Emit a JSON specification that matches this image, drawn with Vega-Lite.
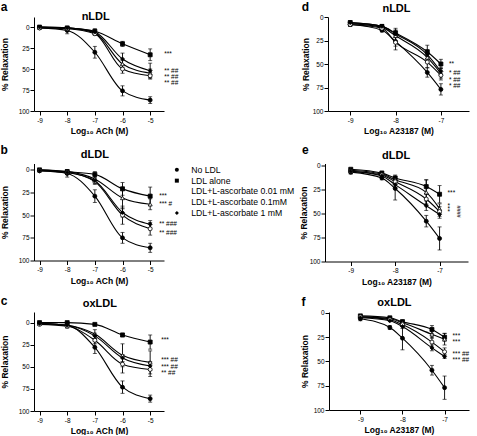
{
"$schema": "https://vega.github.io/schema/vega-lite/v6.json",
"padding": 0,
"datasets": {
"pts": [
{"panel":"a","series":"No LDL","x":-9,"y":1,"sem":1},{"panel":"a","series":"No LDL","x":-8,"y":4,"sem":4},{"panel":"a","series":"No LDL","x":-7,"y":30,"sem":7},{"panel":"a","series":"No LDL","x":-6,"y":76,"sem":6},{"panel":"a","series":"No LDL","x":-5,"y":87,"sem":4},
{"panel":"a","series":"LDL alone","x":-9,"y":0,"sem":1},{"panel":"a","series":"LDL alone","x":-8,"y":1,"sem":1},{"panel":"a","series":"LDL alone","x":-7,"y":5,"sem":3},{"panel":"a","series":"LDL alone","x":-6,"y":20,"sem":3},{"panel":"a","series":"LDL alone","x":-5,"y":33,"sem":7},
{"panel":"a","series":"LDL+L-ascorbate 0.01 mM","x":-9,"y":0,"sem":1},{"panel":"a","series":"LDL+L-ascorbate 0.01 mM","x":-8,"y":1,"sem":1},{"panel":"a","series":"LDL+L-ascorbate 0.01 mM","x":-7,"y":7,"sem":2},{"panel":"a","series":"LDL+L-ascorbate 0.01 mM","x":-6,"y":44,"sem":4},{"panel":"a","series":"LDL+L-ascorbate 0.01 mM","x":-5,"y":55,"sem":5},
{"panel":"a","series":"LDL+L-ascorbate 0.1mM","x":-9,"y":1,"sem":1},{"panel":"a","series":"LDL+L-ascorbate 0.1mM","x":-8,"y":2,"sem":2},{"panel":"a","series":"LDL+L-ascorbate 0.1mM","x":-7,"y":8,"sem":2},{"panel":"a","series":"LDL+L-ascorbate 0.1mM","x":-6,"y":50,"sem":5},{"panel":"a","series":"LDL+L-ascorbate 0.1mM","x":-5,"y":58,"sem":4},
{"panel":"a","series":"LDL+L-ascorbate 1 mM","x":-9,"y":0,"sem":1},{"panel":"a","series":"LDL+L-ascorbate 1 mM","x":-8,"y":1,"sem":1},{"panel":"a","series":"LDL+L-ascorbate 1 mM","x":-7,"y":6,"sem":3},{"panel":"a","series":"LDL+L-ascorbate 1 mM","x":-6,"y":38,"sem":7},{"panel":"a","series":"LDL+L-ascorbate 1 mM","x":-5,"y":52,"sem":9},
{"panel":"b","series":"No LDL","x":-9,"y":1,"sem":1},{"panel":"b","series":"No LDL","x":-8,"y":4,"sem":4},{"panel":"b","series":"No LDL","x":-7,"y":29,"sem":7},{"panel":"b","series":"No LDL","x":-6,"y":75,"sem":6},{"panel":"b","series":"No LDL","x":-5,"y":86,"sem":5},
{"panel":"b","series":"LDL alone","x":-9,"y":0,"sem":1},{"panel":"b","series":"LDL alone","x":-8,"y":2,"sem":2},{"panel":"b","series":"LDL alone","x":-7,"y":5,"sem":3},{"panel":"b","series":"LDL alone","x":-6,"y":21,"sem":7},{"panel":"b","series":"LDL alone","x":-5,"y":29,"sem":10},
{"panel":"b","series":"LDL+L-ascorbate 0.01 mM","x":-9,"y":0,"sem":1},{"panel":"b","series":"LDL+L-ascorbate 0.01 mM","x":-8,"y":2,"sem":2},{"panel":"b","series":"LDL+L-ascorbate 0.01 mM","x":-7,"y":10,"sem":3},{"panel":"b","series":"LDL+L-ascorbate 0.01 mM","x":-6,"y":31,"sem":12},{"panel":"b","series":"LDL+L-ascorbate 0.01 mM","x":-5,"y":38,"sem":6},
{"panel":"b","series":"LDL+L-ascorbate 0.1mM","x":-9,"y":1,"sem":1},{"panel":"b","series":"LDL+L-ascorbate 0.1mM","x":-8,"y":3,"sem":2},{"panel":"b","series":"LDL+L-ascorbate 0.1mM","x":-7,"y":13,"sem":3},{"panel":"b","series":"LDL+L-ascorbate 0.1mM","x":-6,"y":50,"sem":10},{"panel":"b","series":"LDL+L-ascorbate 0.1mM","x":-5,"y":65,"sem":7},
{"panel":"b","series":"LDL+L-ascorbate 1 mM","x":-9,"y":1,"sem":1},{"panel":"b","series":"LDL+L-ascorbate 1 mM","x":-8,"y":3,"sem":2},{"panel":"b","series":"LDL+L-ascorbate 1 mM","x":-7,"y":12,"sem":3},{"panel":"b","series":"LDL+L-ascorbate 1 mM","x":-6,"y":47,"sem":5},{"panel":"b","series":"LDL+L-ascorbate 1 mM","x":-5,"y":60,"sem":4},
{"panel":"c","series":"No LDL","x":-9,"y":1,"sem":1},{"panel":"c","series":"No LDL","x":-8,"y":3,"sem":3},{"panel":"c","series":"No LDL","x":-7,"y":28,"sem":7},{"panel":"c","series":"No LDL","x":-6,"y":73,"sem":7},{"panel":"c","series":"No LDL","x":-5,"y":86,"sem":4},
{"panel":"c","series":"LDL alone","x":-9,"y":0,"sem":1},{"panel":"c","series":"LDL alone","x":-8,"y":0,"sem":1},{"panel":"c","series":"LDL alone","x":-7,"y":2,"sem":1},{"panel":"c","series":"LDL alone","x":-6,"y":14,"sem":2},{"panel":"c","series":"LDL alone","x":-5,"y":22,"sem":8},
{"panel":"c","series":"LDL+L-ascorbate 0.01 mM","x":-9,"y":1,"sem":1},{"panel":"c","series":"LDL+L-ascorbate 0.01 mM","x":-8,"y":3,"sem":2},{"panel":"c","series":"LDL+L-ascorbate 0.01 mM","x":-7,"y":13,"sem":5},{"panel":"c","series":"LDL+L-ascorbate 0.01 mM","x":-6,"y":37,"sem":13},{"panel":"c","series":"LDL+L-ascorbate 0.01 mM","x":-5,"y":45,"sem":13},
{"panel":"c","series":"LDL+L-ascorbate 0.1mM","x":-9,"y":2,"sem":1},{"panel":"c","series":"LDL+L-ascorbate 0.1mM","x":-8,"y":4,"sem":2},{"panel":"c","series":"LDL+L-ascorbate 0.1mM","x":-7,"y":20,"sem":4},{"panel":"c","series":"LDL+L-ascorbate 0.1mM","x":-6,"y":47,"sem":10},{"panel":"c","series":"LDL+L-ascorbate 0.1mM","x":-5,"y":53,"sem":8},
{"panel":"c","series":"LDL+L-ascorbate 1 mM","x":-9,"y":1,"sem":1},{"panel":"c","series":"LDL+L-ascorbate 1 mM","x":-8,"y":3,"sem":2},{"panel":"c","series":"LDL+L-ascorbate 1 mM","x":-7,"y":15,"sem":3},{"panel":"c","series":"LDL+L-ascorbate 1 mM","x":-6,"y":40,"sem":4},{"panel":"c","series":"LDL+L-ascorbate 1 mM","x":-5,"y":49,"sem":5},
{"panel":"d","series":"No LDL","x":-9,"y":8,"sem":2},{"panel":"d","series":"No LDL","x":-8.3,"y":14,"sem":2},{"panel":"d","series":"No LDL","x":-8,"y":26,"sem":5},{"panel":"d","series":"No LDL","x":-7.3,"y":59,"sem":5},{"panel":"d","series":"No LDL","x":-7,"y":77,"sem":6},
{"panel":"d","series":"LDL alone","x":-9,"y":6,"sem":2},{"panel":"d","series":"LDL alone","x":-8.3,"y":10,"sem":2},{"panel":"d","series":"LDL alone","x":-8,"y":17,"sem":3},{"panel":"d","series":"LDL alone","x":-7.3,"y":37,"sem":7},{"panel":"d","series":"LDL alone","x":-7,"y":50,"sem":5},
{"panel":"d","series":"LDL+L-ascorbate 0.01 mM","x":-9,"y":7,"sem":2},{"panel":"d","series":"LDL+L-ascorbate 0.01 mM","x":-8.3,"y":11,"sem":3},{"panel":"d","series":"LDL+L-ascorbate 0.01 mM","x":-8,"y":20,"sem":8},{"panel":"d","series":"LDL+L-ascorbate 0.01 mM","x":-7.3,"y":43,"sem":5},{"panel":"d","series":"LDL+L-ascorbate 0.01 mM","x":-7,"y":60,"sem":5},
{"panel":"d","series":"LDL+L-ascorbate 0.1mM","x":-9,"y":8,"sem":2},{"panel":"d","series":"LDL+L-ascorbate 0.1mM","x":-8.3,"y":12,"sem":3},{"panel":"d","series":"LDL+L-ascorbate 0.1mM","x":-8,"y":27,"sem":8},{"panel":"d","series":"LDL+L-ascorbate 0.1mM","x":-7.3,"y":48,"sem":6},{"panel":"d","series":"LDL+L-ascorbate 0.1mM","x":-7,"y":62,"sem":5},
{"panel":"d","series":"LDL+L-ascorbate 1 mM","x":-9,"y":6,"sem":2},{"panel":"d","series":"LDL+L-ascorbate 1 mM","x":-8.3,"y":10,"sem":2},{"panel":"d","series":"LDL+L-ascorbate 1 mM","x":-8,"y":18,"sem":4},{"panel":"d","series":"LDL+L-ascorbate 1 mM","x":-7.3,"y":40,"sem":5},{"panel":"d","series":"LDL+L-ascorbate 1 mM","x":-7,"y":58,"sem":4},
{"panel":"e","series":"No LDL","x":-9,"y":7,"sem":2},{"panel":"e","series":"No LDL","x":-8.3,"y":13,"sem":2},{"panel":"e","series":"No LDL","x":-8,"y":24,"sem":12},{"panel":"e","series":"No LDL","x":-7.3,"y":58,"sem":6},{"panel":"e","series":"No LDL","x":-7,"y":76,"sem":12},
{"panel":"e","series":"LDL alone","x":-9,"y":4,"sem":1},{"panel":"e","series":"LDL alone","x":-8.3,"y":8,"sem":2},{"panel":"e","series":"LDL alone","x":-8,"y":13,"sem":3},{"panel":"e","series":"LDL alone","x":-7.3,"y":22,"sem":7},{"panel":"e","series":"LDL alone","x":-7,"y":30,"sem":9},
{"panel":"e","series":"LDL+L-ascorbate 0.01 mM","x":-9,"y":5,"sem":1},{"panel":"e","series":"LDL+L-ascorbate 0.01 mM","x":-8.3,"y":9,"sem":2},{"panel":"e","series":"LDL+L-ascorbate 0.01 mM","x":-8,"y":15,"sem":3},{"panel":"e","series":"LDL+L-ascorbate 0.01 mM","x":-7.3,"y":28,"sem":13},{"panel":"e","series":"LDL+L-ascorbate 0.01 mM","x":-7,"y":45,"sem":5},
{"panel":"e","series":"LDL+L-ascorbate 0.1mM","x":-9,"y":6,"sem":2},{"panel":"e","series":"LDL+L-ascorbate 0.1mM","x":-8.3,"y":10,"sem":2},{"panel":"e","series":"LDL+L-ascorbate 0.1mM","x":-8,"y":17,"sem":3},{"panel":"e","series":"LDL+L-ascorbate 0.1mM","x":-7.3,"y":35,"sem":5},{"panel":"e","series":"LDL+L-ascorbate 0.1mM","x":-7,"y":48,"sem":5},
{"panel":"e","series":"LDL+L-ascorbate 1 mM","x":-9,"y":6,"sem":2},{"panel":"e","series":"LDL+L-ascorbate 1 mM","x":-8.3,"y":11,"sem":2},{"panel":"e","series":"LDL+L-ascorbate 1 mM","x":-8,"y":20,"sem":3},{"panel":"e","series":"LDL+L-ascorbate 1 mM","x":-7.3,"y":42,"sem":5},{"panel":"e","series":"LDL+L-ascorbate 1 mM","x":-7,"y":51,"sem":4},
{"panel":"f","series":"No LDL","x":-9,"y":6,"sem":2},{"panel":"f","series":"No LDL","x":-8.3,"y":15,"sem":2},{"panel":"f","series":"No LDL","x":-8,"y":26,"sem":12},{"panel":"f","series":"No LDL","x":-7.3,"y":59,"sem":5},{"panel":"f","series":"No LDL","x":-7,"y":77,"sem":12},
{"panel":"f","series":"LDL alone","x":-9,"y":3,"sem":1},{"panel":"f","series":"LDL alone","x":-8.3,"y":5,"sem":1},{"panel":"f","series":"LDL alone","x":-8,"y":9,"sem":2},{"panel":"f","series":"LDL alone","x":-7.3,"y":17,"sem":4},{"panel":"f","series":"LDL alone","x":-7,"y":25,"sem":4},
{"panel":"f","series":"LDL+L-ascorbate 0.01 mM","x":-9,"y":4,"sem":1},{"panel":"f","series":"LDL+L-ascorbate 0.01 mM","x":-8.3,"y":6,"sem":1},{"panel":"f","series":"LDL+L-ascorbate 0.01 mM","x":-8,"y":10,"sem":2},{"panel":"f","series":"LDL+L-ascorbate 0.01 mM","x":-7.3,"y":22,"sem":4},{"panel":"f","series":"LDL+L-ascorbate 0.01 mM","x":-7,"y":27,"sem":6},
{"panel":"f","series":"LDL+L-ascorbate 0.1mM","x":-9,"y":4,"sem":1},{"panel":"f","series":"LDL+L-ascorbate 0.1mM","x":-8.3,"y":7,"sem":1},{"panel":"f","series":"LDL+L-ascorbate 0.1mM","x":-8,"y":12,"sem":2},{"panel":"f","series":"LDL+L-ascorbate 0.1mM","x":-7.3,"y":30,"sem":5},{"panel":"f","series":"LDL+L-ascorbate 0.1mM","x":-7,"y":40,"sem":4},
{"panel":"f","series":"LDL+L-ascorbate 1 mM","x":-9,"y":5,"sem":1},{"panel":"f","series":"LDL+L-ascorbate 1 mM","x":-8.3,"y":8,"sem":1},{"panel":"f","series":"LDL+L-ascorbate 1 mM","x":-8,"y":14,"sem":2},{"panel":"f","series":"LDL+L-ascorbate 1 mM","x":-7.3,"y":36,"sem":3},{"panel":"f","series":"LDL+L-ascorbate 1 mM","x":-7,"y":45,"sem":2}
],
"ann": [
{"panel":"a","x":-5,"y":32,"label":"***"},{"panel":"a","x":-5,"y":52,"label":"** ##"},{"panel":"a","x":-5,"y":59,"label":"** ##"},{"panel":"a","x":-5,"y":67,"label":"** ##"},
{"panel":"b","x":-5,"y":29,"label":"***"},{"panel":"b","x":-5,"y":38,"label":"*** #"},{"panel":"b","x":-5,"y":60,"label":"** ###"},{"panel":"b","x":-5,"y":70,"label":"** ###"},
{"panel":"c","x":-5,"y":20,"label":"***"},{"panel":"c","x":-5,"y":42,"label":"*** ##"},{"panel":"c","x":-5,"y":50,"label":"*** ##"},{"panel":"c","x":-5,"y":57,"label":"** ##"},
{"panel":"d","x":-7,"y":50,"label":"**"},{"panel":"d","x":-7,"y":60,"label":"* ##"},{"panel":"d","x":-7,"y":67,"label":"* ##"},{"panel":"d","x":-7,"y":73,"label":"* ##"},
{"panel":"e","x":-7,"y":29,"label":"***"},{"panel":"e","x":-7,"y":42,"label":"*"},{"panel":"e","x":-7,"y":45,"label":"*"},{"panel":"e","x":-7,"y":48,"label":"*"},
{"panel":"f","x":-7,"y":24,"label":"***"},{"panel":"f","x":-7,"y":30,"label":"***"},{"panel":"f","x":-7,"y":42,"label":"*** ##"},{"panel":"f","x":-7,"y":48,"label":"*** ##"}
],
"annv": [{"panel":"e","x":-7,"y":48,"label":"####"}]
},
"vconcat": [
{"hconcat": [
{"width":130,"height":94,
"layer":[
{"data":{"name":"pts"},"transform":[{"filter":"datum.panel==='a'"}],"mark":{"type":"line","interpolate":"monotone","color":"black","strokeWidth":1.1},"encoding":{"x":{"field":"x","type":"quantitative","scale":{"domain":[-9.2,-4.5],"nice":false,"zero":false},"axis":{"values":[-9,-8,-7,-6,-5],"title":"Log₁₀ ACh (M)","labelExpr":"'' + datum.value"}},"y":{"field":"y","type":"quantitative","scale":{"domain":[-12,100],"reverse":true,"nice":false,"zero":false},"axis":{"values":[0,25,50,75,100],"title":"% Relaxation","titlePadding":9}},"detail":{"field":"series"}}},
{"data":{"name":"pts"},"transform":[{"filter":"datum.panel==='a'"}],"mark":{"type":"errorbar","ticks":true,"color":"black","size":4,"thickness":0.9},"encoding":{"x":{"field":"x","type":"quantitative","scale":{"domain":[-9.2,-4.5],"nice":false,"zero":false},"axis":{"values":[-9,-8,-7,-6,-5],"title":"Log₁₀ ACh (M)","labelExpr":"'' + datum.value"}},"y":{"field":"y","type":"quantitative","scale":{"domain":[-12,100],"reverse":true,"nice":false,"zero":false},"axis":{"values":[0,25,50,75,100],"title":"% Relaxation","titlePadding":9}},"yError":{"field":"sem"}}},
{"data":{"name":"pts"},"transform":[{"filter":"datum.panel==='a'"}],"mark":{"type":"point","filled":true,"opacity":1,"size":16,"stroke":"black","strokeWidth":0.8},"encoding":{"x":{"field":"x","type":"quantitative","scale":{"domain":[-9.2,-4.5],"nice":false,"zero":false},"axis":{"values":[-9,-8,-7,-6,-5],"title":"Log₁₀ ACh (M)","labelExpr":"'' + datum.value"}},"y":{"field":"y","type":"quantitative","scale":{"domain":[-12,100],"reverse":true,"nice":false,"zero":false},"axis":{"values":[0,25,50,75,100],"title":"% Relaxation","titlePadding":9}},"shape":{"field":"series","type":"nominal","scale":{"domain":["No LDL","LDL alone","LDL+L-ascorbate 0.01 mM","LDL+L-ascorbate 0.1mM","LDL+L-ascorbate 1 mM"],"range":["circle","square","triangle-up","circle","diamond"]},"legend":{"title":null}},"fill":{"field":"series","type":"nominal","scale":{"domain":["No LDL","LDL alone","LDL+L-ascorbate 0.01 mM","LDL+L-ascorbate 0.1mM","LDL+L-ascorbate 1 mM"],"range":["black","black","white","white","black"]},"legend":{"title":null}}}},
{"data":{"name":"ann"},"transform":[{"filter":"datum.panel==='a'"}],"mark":{"type":"text","align":"left","baseline":"middle","dx":14,"fontSize":6.5,"color":"black"},"encoding":{"x":{"field":"x","type":"quantitative","scale":{"domain":[-9.2,-4.5],"nice":false,"zero":false},"axis":{"values":[-9,-8,-7,-6,-5],"title":"Log₁₀ ACh (M)","labelExpr":"'' + datum.value"}},"y":{"field":"y","type":"quantitative","scale":{"domain":[-12,100],"reverse":true,"nice":false,"zero":false},"axis":{"values":[0,25,50,75,100],"title":"% Relaxation","titlePadding":9}},"text":{"field":"label"}}},
{"data":{"values":[{"letter":"a"}]},"mark":{"type":"text","fontSize":12,"fontWeight":"bold","align":"center","baseline":"alphabetic","color":"black"},"encoding":{"x":{"datum":-10.28,"type":"quantitative","scale":{"domain":[-9.2,-4.5],"nice":false,"zero":false},"axis":{"values":[-9,-8,-7,-6,-5],"title":"Log₁₀ ACh (M)","labelExpr":"'' + datum.value"}},"y":{"datum":-19.6,"type":"quantitative","scale":{"domain":[-12,100],"reverse":true,"nice":false,"zero":false},"axis":{"values":[0,25,50,75,100],"title":"% Relaxation","titlePadding":9}},"text":{"field":"letter"}}},
{"data":{"values":[{"t":"nLDL"}]},"mark":{"type":"text","fontSize":11,"fontWeight":"bold","align":"center","baseline":"alphabetic","color":"black"},"encoding":{"x":{"datum":-6.97,"type":"quantitative","scale":{"domain":[-9.2,-4.5],"nice":false,"zero":false},"axis":{"values":[-9,-8,-7,-6,-5],"title":"Log₁₀ ACh (M)","labelExpr":"'' + datum.value"}},"y":{"datum":-8.4,"type":"quantitative","scale":{"domain":[-12,100],"reverse":true,"nice":false,"zero":false},"axis":{"values":[0,25,50,75,100],"title":"% Relaxation","titlePadding":9}},"text":{"field":"t"}}}
]},
{"width":141,"height":94,
"layer":[
{"data":{"name":"pts"},"transform":[{"filter":"datum.panel==='d'"}],"mark":{"type":"line","interpolate":"monotone","color":"black","strokeWidth":1.1},"encoding":{"x":{"field":"x","type":"quantitative","scale":{"domain":[-9.49,-6.38],"nice":false,"zero":false},"axis":{"values":[-9,-8,-7],"title":"Log₁₀ A23187 (M)","labelExpr":"'' + datum.value"}},"y":{"field":"y","type":"quantitative","scale":{"domain":[0,100],"reverse":true,"nice":false,"zero":false},"axis":{"values":[0,25,50,75,100],"title":"% Relaxation","titlePadding":2}},"detail":{"field":"series"}}},
{"data":{"name":"pts"},"transform":[{"filter":"datum.panel==='d'"}],"mark":{"type":"errorbar","ticks":true,"color":"black","size":4,"thickness":0.9},"encoding":{"x":{"field":"x","type":"quantitative","scale":{"domain":[-9.49,-6.38],"nice":false,"zero":false},"axis":{"values":[-9,-8,-7],"title":"Log₁₀ A23187 (M)","labelExpr":"'' + datum.value"}},"y":{"field":"y","type":"quantitative","scale":{"domain":[0,100],"reverse":true,"nice":false,"zero":false},"axis":{"values":[0,25,50,75,100],"title":"% Relaxation","titlePadding":2}},"yError":{"field":"sem"}}},
{"data":{"name":"pts"},"transform":[{"filter":"datum.panel==='d'"}],"mark":{"type":"point","filled":true,"opacity":1,"size":16,"stroke":"black","strokeWidth":0.8},"encoding":{"x":{"field":"x","type":"quantitative","scale":{"domain":[-9.49,-6.38],"nice":false,"zero":false},"axis":{"values":[-9,-8,-7],"title":"Log₁₀ A23187 (M)","labelExpr":"'' + datum.value"}},"y":{"field":"y","type":"quantitative","scale":{"domain":[0,100],"reverse":true,"nice":false,"zero":false},"axis":{"values":[0,25,50,75,100],"title":"% Relaxation","titlePadding":2}},"shape":{"field":"series","type":"nominal","scale":{"domain":["No LDL","LDL alone","LDL+L-ascorbate 0.01 mM","LDL+L-ascorbate 0.1mM","LDL+L-ascorbate 1 mM"],"range":["circle","square","triangle-up","circle","diamond"]},"legend":{"title":null}},"fill":{"field":"series","type":"nominal","scale":{"domain":["No LDL","LDL alone","LDL+L-ascorbate 0.01 mM","LDL+L-ascorbate 0.1mM","LDL+L-ascorbate 1 mM"],"range":["black","black","white","white","black"]},"legend":{"title":null}}}},
{"data":{"name":"ann"},"transform":[{"filter":"datum.panel==='d'"}],"mark":{"type":"text","align":"left","baseline":"middle","dx":8,"fontSize":6.5,"color":"black"},"encoding":{"x":{"field":"x","type":"quantitative","scale":{"domain":[-9.49,-6.38],"nice":false,"zero":false},"axis":{"values":[-9,-8,-7],"title":"Log₁₀ A23187 (M)","labelExpr":"'' + datum.value"}},"y":{"field":"y","type":"quantitative","scale":{"domain":[0,100],"reverse":true,"nice":false,"zero":false},"axis":{"values":[0,25,50,75,100],"title":"% Relaxation","titlePadding":2}},"text":{"field":"label"}}},
{"data":{"values":[{"letter":"d"}]},"mark":{"type":"text","fontSize":12,"fontWeight":"bold","align":"center","baseline":"alphabetic","color":"black"},"encoding":{"x":{"datum":-9.99,"type":"quantitative","scale":{"domain":[-9.49,-6.38],"nice":false,"zero":false},"axis":{"values":[-9,-8,-7],"title":"Log₁₀ A23187 (M)","labelExpr":"'' + datum.value"}},"y":{"datum":-6.4,"type":"quantitative","scale":{"domain":[0,100],"reverse":true,"nice":false,"zero":false},"axis":{"values":[0,25,50,75,100],"title":"% Relaxation","titlePadding":2}},"text":{"field":"letter"}}},
{"data":{"values":[{"t":"nLDL"}]},"mark":{"type":"text","fontSize":11,"fontWeight":"bold","align":"center","baseline":"alphabetic","color":"black"},"encoding":{"x":{"datum":-7.98,"type":"quantitative","scale":{"domain":[-9.49,-6.38],"nice":false,"zero":false},"axis":{"values":[-9,-8,-7],"title":"Log₁₀ A23187 (M)","labelExpr":"'' + datum.value"}},"y":{"datum":-5.3,"type":"quantitative","scale":{"domain":[0,100],"reverse":true,"nice":false,"zero":false},"axis":{"values":[0,25,50,75,100],"title":"% Relaxation","titlePadding":2}},"text":{"field":"t"}}}
]}
], "spacing": 122},
{"hconcat": [
{"width":130,"height":97,
"layer":[
{"data":{"name":"pts"},"transform":[{"filter":"datum.panel==='b'"}],"mark":{"type":"line","interpolate":"monotone","color":"black","strokeWidth":1.1},"encoding":{"x":{"field":"x","type":"quantitative","scale":{"domain":[-9.2,-4.5],"nice":false,"zero":false},"axis":{"values":[-9,-8,-7,-6,-5],"title":"Log₁₀ ACh (M)","labelExpr":"'' + datum.value"}},"y":{"field":"y","type":"quantitative","scale":{"domain":[-7,100],"reverse":true,"nice":false,"zero":false},"axis":{"values":[0,25,50,75,100],"title":"% Relaxation","titlePadding":9}},"detail":{"field":"series"}}},
{"data":{"name":"pts"},"transform":[{"filter":"datum.panel==='b'"}],"mark":{"type":"errorbar","ticks":true,"color":"black","size":4,"thickness":0.9},"encoding":{"x":{"field":"x","type":"quantitative","scale":{"domain":[-9.2,-4.5],"nice":false,"zero":false},"axis":{"values":[-9,-8,-7,-6,-5],"title":"Log₁₀ ACh (M)","labelExpr":"'' + datum.value"}},"y":{"field":"y","type":"quantitative","scale":{"domain":[-7,100],"reverse":true,"nice":false,"zero":false},"axis":{"values":[0,25,50,75,100],"title":"% Relaxation","titlePadding":9}},"yError":{"field":"sem"}}},
{"data":{"name":"pts"},"transform":[{"filter":"datum.panel==='b'"}],"mark":{"type":"point","filled":true,"opacity":1,"size":16,"stroke":"black","strokeWidth":0.8},"encoding":{"x":{"field":"x","type":"quantitative","scale":{"domain":[-9.2,-4.5],"nice":false,"zero":false},"axis":{"values":[-9,-8,-7,-6,-5],"title":"Log₁₀ ACh (M)","labelExpr":"'' + datum.value"}},"y":{"field":"y","type":"quantitative","scale":{"domain":[-7,100],"reverse":true,"nice":false,"zero":false},"axis":{"values":[0,25,50,75,100],"title":"% Relaxation","titlePadding":9}},"shape":{"field":"series","type":"nominal","scale":{"domain":["No LDL","LDL alone","LDL+L-ascorbate 0.01 mM","LDL+L-ascorbate 0.1mM","LDL+L-ascorbate 1 mM"],"range":["circle","square","triangle-up","circle","diamond"]},"legend":{"title":null}},"fill":{"field":"series","type":"nominal","scale":{"domain":["No LDL","LDL alone","LDL+L-ascorbate 0.01 mM","LDL+L-ascorbate 0.1mM","LDL+L-ascorbate 1 mM"],"range":["black","black","white","white","black"]},"legend":{"title":null}}}},
{"data":{"name":"ann"},"transform":[{"filter":"datum.panel==='b'"}],"mark":{"type":"text","align":"left","baseline":"middle","dx":9,"fontSize":6.5,"color":"black"},"encoding":{"x":{"field":"x","type":"quantitative","scale":{"domain":[-9.2,-4.5],"nice":false,"zero":false},"axis":{"values":[-9,-8,-7,-6,-5],"title":"Log₁₀ ACh (M)","labelExpr":"'' + datum.value"}},"y":{"field":"y","type":"quantitative","scale":{"domain":[-7,100],"reverse":true,"nice":false,"zero":false},"axis":{"values":[0,25,50,75,100],"title":"% Relaxation","titlePadding":9}},"text":{"field":"label"}}},
{"data":{"values":[{"letter":"b"}]},"mark":{"type":"text","fontSize":12,"fontWeight":"bold","align":"center","baseline":"alphabetic","color":"black"},"encoding":{"x":{"datum":-10.28,"type":"quantitative","scale":{"domain":[-9.2,-4.5],"nice":false,"zero":false},"axis":{"values":[-9,-8,-7,-6,-5],"title":"Log₁₀ ACh (M)","labelExpr":"'' + datum.value"}},"y":{"datum":-18.0,"type":"quantitative","scale":{"domain":[-7,100],"reverse":true,"nice":false,"zero":false},"axis":{"values":[0,25,50,75,100],"title":"% Relaxation","titlePadding":9}},"text":{"field":"letter"}}},
{"data":{"values":[{"t":"dLDL"}]},"mark":{"type":"text","fontSize":11,"fontWeight":"bold","align":"center","baseline":"alphabetic","color":"black"},"encoding":{"x":{"datum":-7.0,"type":"quantitative","scale":{"domain":[-9.2,-4.5],"nice":false,"zero":false},"axis":{"values":[-9,-8,-7,-6,-5],"title":"Log₁₀ ACh (M)","labelExpr":"'' + datum.value"}},"y":{"datum":-13.3,"type":"quantitative","scale":{"domain":[-7,100],"reverse":true,"nice":false,"zero":false},"axis":{"values":[0,25,50,75,100],"title":"% Relaxation","titlePadding":9}},"text":{"field":"t"}}}
]},
{"width":143,"height":98,
"layer":[
{"data":{"name":"pts"},"transform":[{"filter":"datum.panel==='e'"}],"mark":{"type":"line","interpolate":"monotone","color":"black","strokeWidth":1.1},"encoding":{"x":{"field":"x","type":"quantitative","scale":{"domain":[-9.58,-6.36],"nice":false,"zero":false},"axis":{"values":[-9,-8,-7],"title":"Log₁₀ A23187 (M)","labelExpr":"'' + datum.value"}},"y":{"field":"y","type":"quantitative","scale":{"domain":[-2,100],"reverse":true,"nice":false,"zero":false},"axis":{"values":[0,25,50,75,100],"title":"% Relaxation","titlePadding":1}},"detail":{"field":"series"}}},
{"data":{"name":"pts"},"transform":[{"filter":"datum.panel==='e'"}],"mark":{"type":"errorbar","ticks":true,"color":"black","size":4,"thickness":0.9},"encoding":{"x":{"field":"x","type":"quantitative","scale":{"domain":[-9.58,-6.36],"nice":false,"zero":false},"axis":{"values":[-9,-8,-7],"title":"Log₁₀ A23187 (M)","labelExpr":"'' + datum.value"}},"y":{"field":"y","type":"quantitative","scale":{"domain":[-2,100],"reverse":true,"nice":false,"zero":false},"axis":{"values":[0,25,50,75,100],"title":"% Relaxation","titlePadding":1}},"yError":{"field":"sem"}}},
{"data":{"name":"pts"},"transform":[{"filter":"datum.panel==='e'"}],"mark":{"type":"point","filled":true,"opacity":1,"size":16,"stroke":"black","strokeWidth":0.8},"encoding":{"x":{"field":"x","type":"quantitative","scale":{"domain":[-9.58,-6.36],"nice":false,"zero":false},"axis":{"values":[-9,-8,-7],"title":"Log₁₀ A23187 (M)","labelExpr":"'' + datum.value"}},"y":{"field":"y","type":"quantitative","scale":{"domain":[-2,100],"reverse":true,"nice":false,"zero":false},"axis":{"values":[0,25,50,75,100],"title":"% Relaxation","titlePadding":1}},"shape":{"field":"series","type":"nominal","scale":{"domain":["No LDL","LDL alone","LDL+L-ascorbate 0.01 mM","LDL+L-ascorbate 0.1mM","LDL+L-ascorbate 1 mM"],"range":["circle","square","triangle-up","circle","diamond"]},"legend":{"title":null}},"fill":{"field":"series","type":"nominal","scale":{"domain":["No LDL","LDL alone","LDL+L-ascorbate 0.01 mM","LDL+L-ascorbate 0.1mM","LDL+L-ascorbate 1 mM"],"range":["black","black","white","white","black"]},"legend":{"title":null}}}},
{"data":{"name":"ann"},"transform":[{"filter":"datum.panel==='e'"}],"mark":{"type":"text","align":"left","baseline":"middle","dx":8,"fontSize":6.5,"color":"black"},"encoding":{"x":{"field":"x","type":"quantitative","scale":{"domain":[-9.58,-6.36],"nice":false,"zero":false},"axis":{"values":[-9,-8,-7],"title":"Log₁₀ A23187 (M)","labelExpr":"'' + datum.value"}},"y":{"field":"y","type":"quantitative","scale":{"domain":[-2,100],"reverse":true,"nice":false,"zero":false},"axis":{"values":[0,25,50,75,100],"title":"% Relaxation","titlePadding":1}},"text":{"field":"label"}}},
{"data":{"name":"annv"},"transform":[{"filter":"datum.panel==='e'"}],"mark":{"type":"text","align":"center","baseline":"middle","angle":90,"dy":-19,"fontSize":5.5,"color":"black"},"encoding":{"x":{"field":"x","type":"quantitative","scale":{"domain":[-9.58,-6.36],"nice":false,"zero":false},"axis":{"values":[-9,-8,-7],"title":"Log₁₀ A23187 (M)","labelExpr":"'' + datum.value"}},"y":{"field":"y","type":"quantitative","scale":{"domain":[-2,100],"reverse":true,"nice":false,"zero":false},"axis":{"values":[0,25,50,75,100],"title":"% Relaxation","titlePadding":1}},"text":{"field":"label"}}},
{"data":{"values":[{"letter":"e"}]},"mark":{"type":"text","fontSize":12,"fontWeight":"bold","align":"center","baseline":"alphabetic","color":"black"},"encoding":{"x":{"datum":-10.02,"type":"quantitative","scale":{"domain":[-9.58,-6.36],"nice":false,"zero":false},"axis":{"values":[-9,-8,-7],"title":"Log₁₀ A23187 (M)","labelExpr":"'' + datum.value"}},"y":{"datum":-11.4,"type":"quantitative","scale":{"domain":[-2,100],"reverse":true,"nice":false,"zero":false},"axis":{"values":[0,25,50,75,100],"title":"% Relaxation","titlePadding":1}},"text":{"field":"letter"}}},
{"data":{"values":[{"t":"dLDL"}]},"mark":{"type":"text","fontSize":11,"fontWeight":"bold","align":"center","baseline":"alphabetic","color":"black"},"encoding":{"x":{"datum":-7.98,"type":"quantitative","scale":{"domain":[-9.58,-6.36],"nice":false,"zero":false},"axis":{"values":[-9,-8,-7],"title":"Log₁₀ A23187 (M)","labelExpr":"'' + datum.value"}},"y":{"datum":-7.2,"type":"quantitative","scale":{"domain":[-2,100],"reverse":true,"nice":false,"zero":false},"axis":{"values":[0,25,50,75,100],"title":"% Relaxation","titlePadding":1}},"text":{"field":"t"}}}
]}
], "spacing": 122},
{"hconcat": [
{"width":130,"height":99,
"layer":[
{"data":{"name":"pts"},"transform":[{"filter":"datum.panel==='c'"}],"mark":{"type":"line","interpolate":"monotone","color":"black","strokeWidth":1.1},"encoding":{"x":{"field":"x","type":"quantitative","scale":{"domain":[-9.2,-4.5],"nice":false,"zero":false},"axis":{"values":[-9,-8,-7,-6,-5],"title":"Log₁₀ ACh (M)","labelExpr":"'' + datum.value"}},"y":{"field":"y","type":"quantitative","scale":{"domain":[-12,100],"reverse":true,"nice":false,"zero":false},"axis":{"values":[0,25,50,75,100],"title":"% Relaxation","titlePadding":9}},"detail":{"field":"series"}}},
{"data":{"name":"pts"},"transform":[{"filter":"datum.panel==='c'"}],"mark":{"type":"errorbar","ticks":true,"color":"black","size":4,"thickness":0.9},"encoding":{"x":{"field":"x","type":"quantitative","scale":{"domain":[-9.2,-4.5],"nice":false,"zero":false},"axis":{"values":[-9,-8,-7,-6,-5],"title":"Log₁₀ ACh (M)","labelExpr":"'' + datum.value"}},"y":{"field":"y","type":"quantitative","scale":{"domain":[-12,100],"reverse":true,"nice":false,"zero":false},"axis":{"values":[0,25,50,75,100],"title":"% Relaxation","titlePadding":9}},"yError":{"field":"sem"}}},
{"data":{"name":"pts"},"transform":[{"filter":"datum.panel==='c'"}],"mark":{"type":"point","filled":true,"opacity":1,"size":16,"stroke":"black","strokeWidth":0.8},"encoding":{"x":{"field":"x","type":"quantitative","scale":{"domain":[-9.2,-4.5],"nice":false,"zero":false},"axis":{"values":[-9,-8,-7,-6,-5],"title":"Log₁₀ ACh (M)","labelExpr":"'' + datum.value"}},"y":{"field":"y","type":"quantitative","scale":{"domain":[-12,100],"reverse":true,"nice":false,"zero":false},"axis":{"values":[0,25,50,75,100],"title":"% Relaxation","titlePadding":9}},"shape":{"field":"series","type":"nominal","scale":{"domain":["No LDL","LDL alone","LDL+L-ascorbate 0.01 mM","LDL+L-ascorbate 0.1mM","LDL+L-ascorbate 1 mM"],"range":["circle","square","triangle-up","circle","diamond"]},"legend":{"title":null}},"fill":{"field":"series","type":"nominal","scale":{"domain":["No LDL","LDL alone","LDL+L-ascorbate 0.01 mM","LDL+L-ascorbate 0.1mM","LDL+L-ascorbate 1 mM"],"range":["black","black","white","white","black"]},"legend":{"title":null}}}},
{"data":{"name":"ann"},"transform":[{"filter":"datum.panel==='c'"}],"mark":{"type":"text","align":"left","baseline":"middle","dx":11,"fontSize":6.5,"color":"black"},"encoding":{"x":{"field":"x","type":"quantitative","scale":{"domain":[-9.2,-4.5],"nice":false,"zero":false},"axis":{"values":[-9,-8,-7,-6,-5],"title":"Log₁₀ ACh (M)","labelExpr":"'' + datum.value"}},"y":{"field":"y","type":"quantitative","scale":{"domain":[-12,100],"reverse":true,"nice":false,"zero":false},"axis":{"values":[0,25,50,75,100],"title":"% Relaxation","titlePadding":9}},"text":{"field":"label"}}},
{"data":{"values":[{"letter":"c"}]},"mark":{"type":"text","fontSize":12,"fontWeight":"bold","align":"center","baseline":"alphabetic","color":"black"},"encoding":{"x":{"datum":-10.28,"type":"quantitative","scale":{"domain":[-9.2,-4.5],"nice":false,"zero":false},"axis":{"values":[-9,-8,-7,-6,-5],"title":"Log₁₀ ACh (M)","labelExpr":"'' + datum.value"}},"y":{"datum":-20.4,"type":"quantitative","scale":{"domain":[-12,100],"reverse":true,"nice":false,"zero":false},"axis":{"values":[0,25,50,75,100],"title":"% Relaxation","titlePadding":9}},"text":{"field":"letter"}}},
{"data":{"values":[{"t":"oxLDL"}]},"mark":{"type":"text","fontSize":11,"fontWeight":"bold","align":"center","baseline":"alphabetic","color":"black"},"encoding":{"x":{"datum":-6.82,"type":"quantitative","scale":{"domain":[-9.2,-4.5],"nice":false,"zero":false},"axis":{"values":[-9,-8,-7,-6,-5],"title":"Log₁₀ ACh (M)","labelExpr":"'' + datum.value"}},"y":{"datum":-17.7,"type":"quantitative","scale":{"domain":[-12,100],"reverse":true,"nice":false,"zero":false},"axis":{"values":[0,25,50,75,100],"title":"% Relaxation","titlePadding":9}},"text":{"field":"t"}}}
]},
{"width":140,"height":98,
"layer":[
{"data":{"name":"pts"},"transform":[{"filter":"datum.panel==='f'"}],"mark":{"type":"line","interpolate":"monotone","color":"black","strokeWidth":1.1},"encoding":{"x":{"field":"x","type":"quantitative","scale":{"domain":[-9.745,-6.42],"nice":false,"zero":false},"axis":{"values":[-9,-8,-7],"title":"Log₁₀ A23187 (M)","labelExpr":"'' + datum.value"}},"y":{"field":"y","type":"quantitative","scale":{"domain":[-1,100],"reverse":true,"nice":false,"zero":false},"axis":{"values":[0,25,50,75,100],"title":"% Relaxation","titlePadding":4}},"detail":{"field":"series"}}},
{"data":{"name":"pts"},"transform":[{"filter":"datum.panel==='f'"}],"mark":{"type":"errorbar","ticks":true,"color":"black","size":4,"thickness":0.9},"encoding":{"x":{"field":"x","type":"quantitative","scale":{"domain":[-9.745,-6.42],"nice":false,"zero":false},"axis":{"values":[-9,-8,-7],"title":"Log₁₀ A23187 (M)","labelExpr":"'' + datum.value"}},"y":{"field":"y","type":"quantitative","scale":{"domain":[-1,100],"reverse":true,"nice":false,"zero":false},"axis":{"values":[0,25,50,75,100],"title":"% Relaxation","titlePadding":4}},"yError":{"field":"sem"}}},
{"data":{"name":"pts"},"transform":[{"filter":"datum.panel==='f'"}],"mark":{"type":"point","filled":true,"opacity":1,"size":16,"stroke":"black","strokeWidth":0.8},"encoding":{"x":{"field":"x","type":"quantitative","scale":{"domain":[-9.745,-6.42],"nice":false,"zero":false},"axis":{"values":[-9,-8,-7],"title":"Log₁₀ A23187 (M)","labelExpr":"'' + datum.value"}},"y":{"field":"y","type":"quantitative","scale":{"domain":[-1,100],"reverse":true,"nice":false,"zero":false},"axis":{"values":[0,25,50,75,100],"title":"% Relaxation","titlePadding":4}},"shape":{"field":"series","type":"nominal","scale":{"domain":["No LDL","LDL alone","LDL+L-ascorbate 0.01 mM","LDL+L-ascorbate 0.1mM","LDL+L-ascorbate 1 mM"],"range":["circle","square","triangle-up","circle","diamond"]},"legend":{"title":null}},"fill":{"field":"series","type":"nominal","scale":{"domain":["No LDL","LDL alone","LDL+L-ascorbate 0.01 mM","LDL+L-ascorbate 0.1mM","LDL+L-ascorbate 1 mM"],"range":["black","black","white","white","black"]},"legend":{"title":null}}}},
{"data":{"name":"ann"},"transform":[{"filter":"datum.panel==='f'"}],"mark":{"type":"text","align":"left","baseline":"middle","dx":8,"fontSize":6.5,"color":"black"},"encoding":{"x":{"field":"x","type":"quantitative","scale":{"domain":[-9.745,-6.42],"nice":false,"zero":false},"axis":{"values":[-9,-8,-7],"title":"Log₁₀ A23187 (M)","labelExpr":"'' + datum.value"}},"y":{"field":"y","type":"quantitative","scale":{"domain":[-1,100],"reverse":true,"nice":false,"zero":false},"axis":{"values":[0,25,50,75,100],"title":"% Relaxation","titlePadding":4}},"text":{"field":"label"}}},
{"data":{"values":[{"letter":"f"}]},"mark":{"type":"text","fontSize":12,"fontWeight":"bold","align":"center","baseline":"alphabetic","color":"black"},"encoding":{"x":{"datum":-10.35,"type":"quantitative","scale":{"domain":[-9.745,-6.42],"nice":false,"zero":false},"axis":{"values":[-9,-8,-7],"title":"Log₁₀ A23187 (M)","labelExpr":"'' + datum.value"}},"y":{"datum":-7.5,"type":"quantitative","scale":{"domain":[-1,100],"reverse":true,"nice":false,"zero":false},"axis":{"values":[0,25,50,75,100],"title":"% Relaxation","titlePadding":4}},"text":{"field":"letter"}}},
{"data":{"values":[{"t":"oxLDL"}]},"mark":{"type":"text","fontSize":11,"fontWeight":"bold","align":"center","baseline":"alphabetic","color":"black"},"encoding":{"x":{"datum":-8.19,"type":"quantitative","scale":{"domain":[-9.745,-6.42],"nice":false,"zero":false},"axis":{"values":[-9,-8,-7],"title":"Log₁₀ A23187 (M)","labelExpr":"'' + datum.value"}},"y":{"datum":-7.2,"type":"quantitative","scale":{"domain":[-1,100],"reverse":true,"nice":false,"zero":false},"axis":{"values":[0,25,50,75,100],"title":"% Relaxation","titlePadding":4}},"text":{"field":"t"}}}
]}
], "spacing": 122}
],
"spacing": 8.5,
"config": {
"font": "Liberation Sans",
"view": {"stroke": null},
"axis": {"grid": false, "domainColor": "black", "tickColor": "black", "labelColor": "black", "titleColor": "black", "labelFontSize": 6.5, "titleFontSize": 8.5, "titleFontWeight": "bold", "tickSize": 4, "domainWidth": 1, "tickWidth": 1, "labelPadding": 1},
"axisX": {"titlePadding": 3, "labelPadding": 2},
"legend": {"orient": "none", "legendX": 138.5, "legendY": 148.5, "labelFontSize": 8.7, "labelColor": "black", "symbolSize": 16, "symbolStrokeColor": "black", "symbolStrokeWidth": 0.8, "rowPadding": 0.8, "labelOffset": 10, "labelLimit": 200}
}
}
